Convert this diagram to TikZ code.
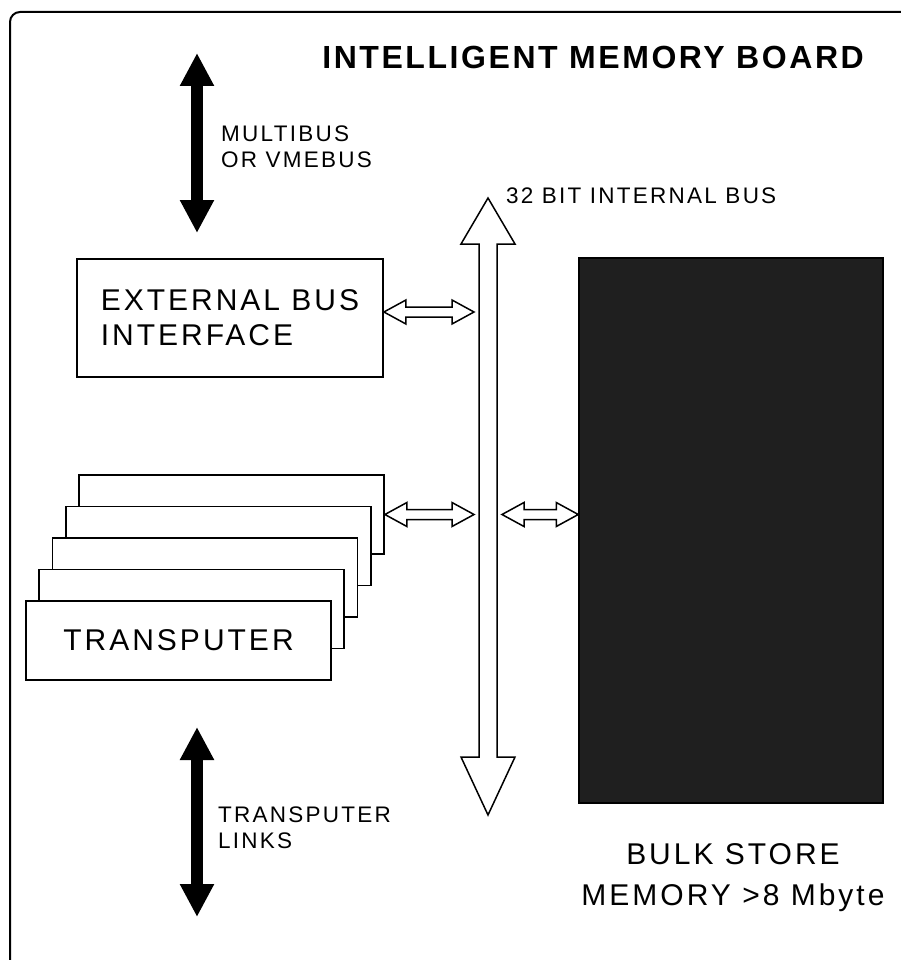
\documentclass[tikz,border=0pt]{standalone}
\usepackage{fontspec}
\newfontfamily\boardfont[LetterSpace=10]{Liberation Sans}
\usetikzlibrary{arrows.meta,calc}

% hollow two-way arrow between two points on one level
\newcommand\busport[2]{%
  \draw[hollow] (#1) -- ++(22,-12) -- ++(0,7) -- ($(#2)+(-22,-5)$) -- ++(0,-7) -- (#2)
    -- ++(-22,12) -- ++(0,-7) -- ($(#1)+(22,5)$) -- ++(0,7) -- cycle;}

\begin{document}
\begin{tikzpicture}[
    x=1pt, y=-1pt,
    >={Triangle[width=32pt,length=33pt]},
    linkarrow/.style={<->, line width=12pt},
    boardbox/.style={draw, line width=1.8pt, fill=white, inner sep=0pt, minimum width=306pt},
    boxtext/.style={font=\boardfont\fontsize{30}{35}\selectfont, align=left, inner sep=0pt},
    smalltext/.style={font=\boardfont\fontsize{22.5}{26}\selectfont, align=left, inner sep=0pt},
    hollow/.style={draw, line width=1.5pt, fill=white, line join=miter}
]
\useasboundingbox (0,0) rectangle (901,960);
% board outline
\draw[line width=2pt, rounded corners=10pt] (10,960) |- (901,12);
\node[font=\boardfont\bfseries\addfontfeature{LetterSpace=8}\fontsize{32}{36}\selectfont, anchor=base east, inner sep=0pt] (title) at (864,69) {INTELLIGENT MEMORY BOARD};

% system bus and links
\coordinate (mbtop) at (197,53);
\coordinate (mbbot) at (197,233);
\draw[linkarrow] (mbtop) -- (mbbot);
\node[smalltext, anchor=west] (mblabel) at (221,147) {MULTIBUS\\OR VMEBUS};

\coordinate (tltop) at (197,727);
\coordinate (tlbot) at (197,917);
\draw[linkarrow] (tltop) -- (tlbot);
\node[smalltext, anchor=west] (tllabel) at (218,828) {TRANSPUTER\\LINKS};

% internal bus
\coordinate (bustop) at (488,198);
\coordinate (busbot) at (488,815);
\draw[hollow] (bustop) -- ++(27,46) -- ++(-18,0) -- ($(busbot)+(9,-58)$) -- ++(18,0) -- (busbot)
  -- ++(-27,-58) -- ++(18,0) -- ($(bustop)+(-9,46)$) -- ++(-18,0) -- cycle;
\node[smalltext, anchor=base west] (buslabel) at (506,203) {32 BIT INTERNAL BUS};
\coordinate (busw) at (474,0);
\coordinate (buse) at (502,0);

% boards on the bus
\node[boardbox, boxtext, minimum height=118] (ext) at (230,318) {EXTERNAL BUS\\INTERFACE};
\foreach \i in {4,3,...,0}
  \node[boardbox, minimum width=305, minimum height=79] (tp\i) at ({178.5+13.25*\i},{640.5-31.5*\i}) {};
\node[boxtext] (tplabel) at (tp0) {TRANSPUTER};

\node[draw, line width=1.5pt, fill=black!88, minimum width=304, minimum height=545, inner sep=0pt] (mem) at (731,530.5) {};
\node[boxtext, align=center] (memlabel) at (733,878) {BULK STORE\\[6pt]MEMORY >8 Mbyte};

\coordinate (extport) at ([yshift=6pt]ext.east);
\busport{extport}{extport -| busw}
\busport{tp4.east}{tp4.east -| busw}
\busport{tp4.east -| buse}{tp4.east -| mem.west}
\end{tikzpicture}
\end{document}
